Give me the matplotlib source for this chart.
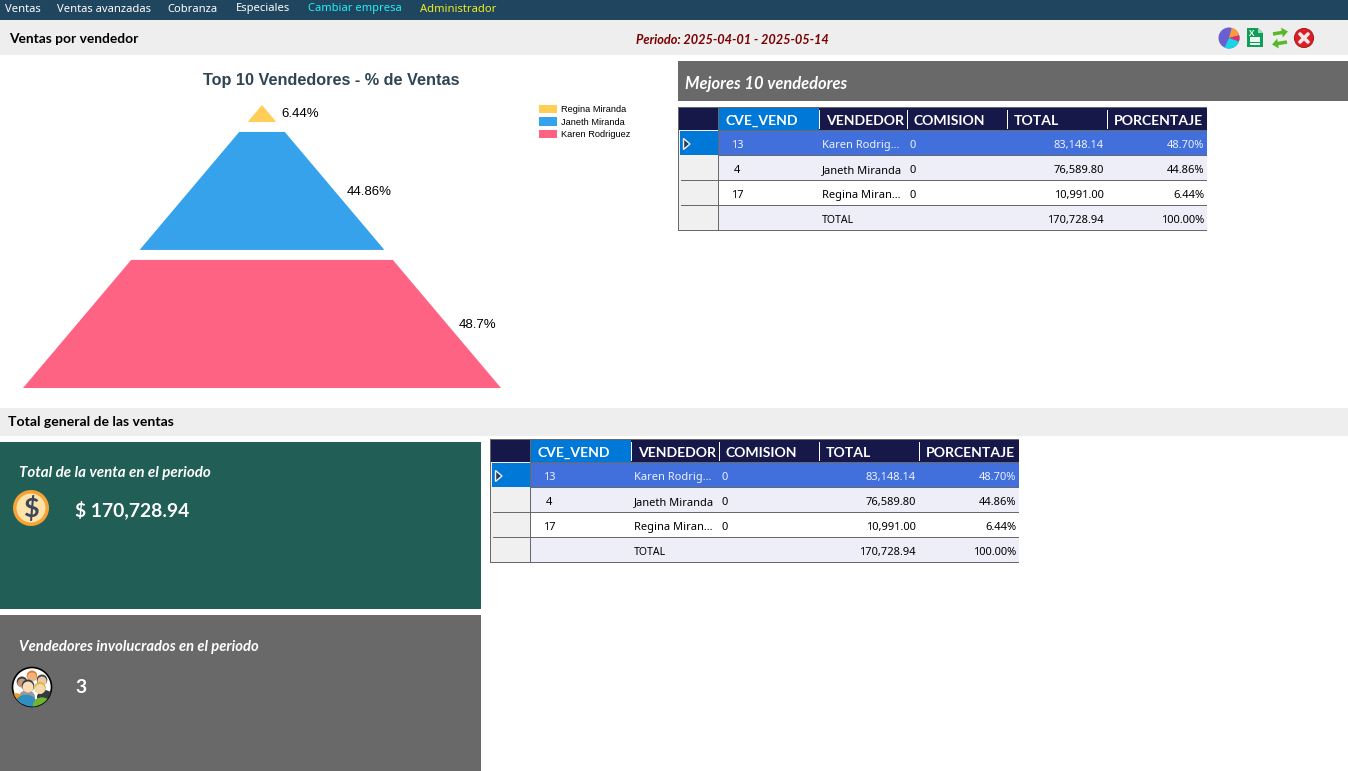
import matplotlib
matplotlib.use("Agg")
import matplotlib.pyplot as plt
from matplotlib.patches import Rectangle, Polygon, Circle, Wedge, FancyArrow, Ellipse

# ---------- data ----------
menu_items = ["Ventas", "Ventas avanzadas", "Cobranza", "Especiales", "Cambiar empresa", "Administrador"]
columns = ["CVE_VEND", "VENDEDOR", "COMISION", "TOTAL", "PORCENTAJE"]
codes = ["13", "4", "17"]
sellers_short = ["Karen Rodrig...", "Janeth Miranda", "Regina Miran..."]
sellers = ["Karen Rodriguez", "Janeth Miranda", "Regina Miranda"]
commissions = [0, 0, 0]
totals = [83148.14, 76589.80, 10991.00]
percents = [48.70, 44.86, 6.44]
grand_total = 170728.94
grand_percent = 100.00
seller_colors = ["#ff6384", "#36a2eb", "#ffce56"]
seller_count = 3

W, H = 1348, 771
fig = plt.figure(figsize=(W / 100, H / 100), dpi=100)
ax = fig.add_axes([0, 0, 1, 1])
ax.set_xlim(0, W)
ax.set_ylim(H, 0)
ax.axis("off")

UI = "Noto Sans"
BOLD = "Lato"
CHART = "Liberation Sans"


def px(size):
    return size * 0.72


def rect(x0, y0, x1, y1, color, z=1):
    ax.add_patch(Rectangle((x0, y0), x1 - x0, y1 - y0, fc=color, ec="none", lw=0, zorder=z))


def label(x, y, s, size, color="black", ha="left", weight="normal", style="normal", family=None, z=6):
    if family is None:
        family = BOLD if weight == "bold" else UI
    if family == UI:
        y += 1.5
    elif family == BOLD:
        y += 1
    ax.text(x, y, s, fontsize=px(size), color=color, ha=ha, va="center", fontweight=weight,
            fontstyle=style, family=family, zorder=z)


# ---------- page bands ----------
rect(0, 0, W, 20, "#20455e")
rect(0, 20, W, 55, "#eeeeee")
rect(0, 408, W, 436, "#eeeeee")
rect(678, 61, W, 101, "#696969")
rect(0, 442, 481, 609, "#205e56")
rect(0, 615, 481, H, "#696969")

menu_x = [5, 57, 167, 236, 308, 420]
menu_colors = ["white", "white", "white", "white", "#22f0f5", "#eeee22"]
for x, s, c in zip(menu_x, menu_items, menu_colors):
    label(x, 7.5, s, 11.2, c)

label(9, 38, "Ventas por vendedor", 13.7, weight="bold")
label(636, 39.5, "Periodo: 2025-04-01 - 2025-05-14", 12.7, "#7a0000", weight="bold", style="italic")
label(8, 421, "Total general de las ventas", 14, weight="bold")
label(685, 83.5, "Mejores 10 vendedores", 16.5, "white", weight="bold", style="italic")
label(19, 471.5, "Total de la venta en el periodo", 15.1, "white", weight="bold", style="italic")
label(75, 508.5, "$ " + format(grand_total, ",.2f"), 19.3, "white", weight="bold")
label(19, 645.5, "Vendedores involucrados en el periodo", 14.8, "white", weight="bold", style="italic")
label(75, 686.5, str(seller_count), 19.3, "white", weight="bold")

# ---------- pyramid chart ----------
label(331, 81, "Top 10 Vendedores - % de Ventas", 16.2, "#2f4554", ha="center", weight="bold", family=CHART)
apex_x, apex_y, base_y, half_base, gap = 262, 105, 388, 239, 10
slope = half_base / (base_y - apex_y)
unit = (base_y - apex_y - gap * (len(percents) - 1)) / sum(percents)
y = apex_y
handles = {}
for i in range(len(percents) - 1, -1, -1):
    h = percents[i] * unit
    y2 = y + h
    w1, w2 = (y - apex_y) * slope, (y2 - apex_y) * slope
    poly = Polygon([(apex_x - w1, y), (apex_x + w1, y), (apex_x + w2, y2), (apex_x - w2, y2)],
                   closed=True, fc=seller_colors[i], ec="none", zorder=3, label=sellers[i])
    ax.add_patch(poly)
    handles[i] = poly
    ym = (y + y2) / 2
    label(apex_x + (ym - apex_y) * slope + 12, ym + 1, f"{percents[i]:g}%", 13.3, "black", family=CHART)
    y = y2 + gap

leg = ax.legend(handles=[handles[i] for i in range(len(percents) - 1, -1, -1)],
                loc="upper left", bbox_to_anchor=(539 / W, 1 - 105 / H), frameon=False,
                prop={"family": CHART, "size": px(9.3)}, borderpad=0, borderaxespad=0,
                handlelength=1.94, handleheight=1.0, handletextpad=0.43, labelspacing=0.33)


# ---------- tables ----------
def table(dx, dy):
    X = lambda v: v + dx
    Y = lambda v: v + dy
    line = "#696969"
    rect(X(679), Y(108), X(1207), Y(130), "#16184a", 3)
    rect(X(719), Y(108), X(819), Y(130), "#0078d7", 3)
    rect(X(679), Y(130), X(718), Y(230), "#f0f0f0", 3)
    rect(X(719), Y(131), X(1207), Y(155.5), "#4170dc", 3)
    rect(X(680), Y(131), X(718), Y(155), "#0078d7", 3)
    rect(X(719), Y(156), X(1207), Y(180), "#eeeef8", 3)
    rect(X(719), Y(181), X(1207), Y(205), "white", 3)
    rect(X(719), Y(206), X(1207), Y(230), "#eeeef8", 3)
    # outline and grid
    rect(X(678), Y(107), X(1207), Y(108), line, 4)
    rect(X(678), Y(230), X(1207), Y(231), line, 4)
    rect(X(678), Y(107), X(679), Y(231), line, 4)
    for yy in (180, 205):
        rect(X(681), Y(yy), X(718), Y(yy + 1), line, 4)
        rect(X(719), Y(yy), X(1207), Y(yy + 1), line, 4)
    rect(X(718), Y(107), X(719), Y(231), line, 4)
    rect(X(719), Y(130), X(1207), Y(131), line, 4)
    rect(X(719), Y(155), X(1207), Y(156), line, 4)
    for xx in (819, 907, 1007, 1107):
        rect(X(xx), Y(110), X(xx + 1), Y(129), "white", 5)
    ax.add_patch(Polygon([(X(683.5), Y(138.5)), (X(690), Y(144)), (X(683.5), Y(149.5))], closed=True,
                         fc="#2d3f55", ec="#f0f0f0", lw=1.0, zorder=5))
    head_x = [726, 826, 914, 1014, 1114]
    for x, s in zip(head_x, columns):
        label(X(x), Y(120), s, 14, "white", weight="bold")
    row_y = [144, 169, 194]
    for i, ry in enumerate(row_y):
        tc = "#eef0fb" if i == 0 else "black"
        label(X(737), Y(ry), codes[i], 11.1, tc, ha="center")
        label(X(822), Y(ry), sellers_short[i], 11.1, tc)
        label(X(910), Y(ry), str(commissions[i]), 11.1, tc)
        label(X(1104), Y(ry), format(totals[i], ",.2f"), 11.1, tc, ha="right")
        label(X(1204), Y(ry), f"{percents[i]:.2f}%", 11.1, tc, ha="right")
    label(X(822), Y(219), "TOTAL", 10.5, "black")
    label(X(1104), Y(219), format(grand_total, ",.2f"), 11.1, "black", ha="right")
    label(X(1204), Y(219), f"{grand_percent:.2f}%", 11.1, "black", ha="right")


table(0, 0)
table(-188, 332)

# ---------- toolbar icons ----------
cx, cy = 1229, 38
ax.add_patch(Circle((cx, cy), 10.5, fc="#6a5fd0", ec="none", zorder=5))
ax.add_patch(Wedge((cx, cy), 10.5, -75, -15, fc="#ff9a3a", ec="none", zorder=6))
ax.add_patch(Wedge((cx, cy), 10.5, -15, 20, fc="#d8336e", ec="none", zorder=6))
ax.add_patch(Wedge((cx, cy), 10.5, 20, 115, fc="#19d3e6", ec="none", zorder=6))
ax.add_patch(Polygon([(1247, 28), (1258, 28), (1263, 33), (1263, 47), (1247, 47)], closed=True, fc="#0f9d58", ec="none", zorder=5))
ax.add_patch(Polygon([(1258, 28), (1263, 33), (1258, 33)], closed=True, fc="#9fdcbc", ec="none", zorder=6))
rect(1250, 37, 1260, 45, "#e8f7ef", 6)
for yy in (39.5, 42):
    rect(1250, yy, 1260, yy + 0.8, "#0f9d58", 7)
rect(1254.5, 37, 1255.3, 45, "#0f9d58", 7)
label(1252, 32, "X", 8, "white", ha="center", weight="bold", z=7)
ax.add_patch(FancyArrow(1273, 34, 9, -1.5, width=3.5, head_width=10, head_length=6, length_includes_head=False,
                        fc="#58b926", ec="none", zorder=6))
ax.add_patch(FancyArrow(1287, 42, -9, 1.5, width=3.5, head_width=10, head_length=6, length_includes_head=False,
                        fc="#58b926", ec="none", zorder=6))
ax.add_patch(Circle((1304, 38), 9.5, fc="#d8202a", ec="#b71c1c", lw=0.8, zorder=5))
ax.plot([1300, 1308], [34, 42], color="#f6e6e6", lw=2.6, zorder=6, solid_capstyle="round")
ax.plot([1300, 1308], [42, 34], color="#f6e6e6", lw=2.6, zorder=6, solid_capstyle="round")

# ---------- coin icon ----------
ax.add_patch(Circle((31, 508), 18, fc="#f5a236", ec="none", zorder=5))
ax.add_patch(Circle((31, 508), 14.5, fc="#fde3a7", ec="none", zorder=6))
label(31, 507, "$", 27, "#3c4560", ha="center", weight="bold", z=7)

# ---------- people icon ----------
clip = Circle((32, 687), 19.5, fc="white", ec="black", lw=1.2, zorder=5)
ax.add_patch(clip)
people = [
    (32, 677, 4.5, "#f2b27a", "#d98136", 27, 697, 8, "#9a9a9a"),
    (22, 683, 4.5, "#c99a78", "#3b3b3b", 16, 700, 8, "#f39a1c"),
    (42, 681, 4.5, "#f0c8a0", "#3f4a50", 45, 697, 8, "#333a40"),
    (28, 687, 5.5, "#fbdcb4", "#2c3e50", 26, 704, 11, "#2f8fc0"),
    (40, 689, 5, "#f5d9a8", "#d7b84f", 42, 705, 9, "#71b52e"),
]
for fx, fy, fr, skin, hair, bx, by, br, body in people:
    b = Ellipse((bx, by), br * 2, br * 1.7, fc=body, ec="none", zorder=6)
    ax.add_patch(b)
    b.set_clip_path(clip)
    ax.add_patch(Circle((fx, fy - 1.2), fr + 0.8, fc=hair, ec="none", zorder=6))
    ax.add_patch(Circle((fx, fy), fr, fc=skin, ec="none", zorder=6))

fig.savefig("out.png", dpi=100, facecolor="white")
